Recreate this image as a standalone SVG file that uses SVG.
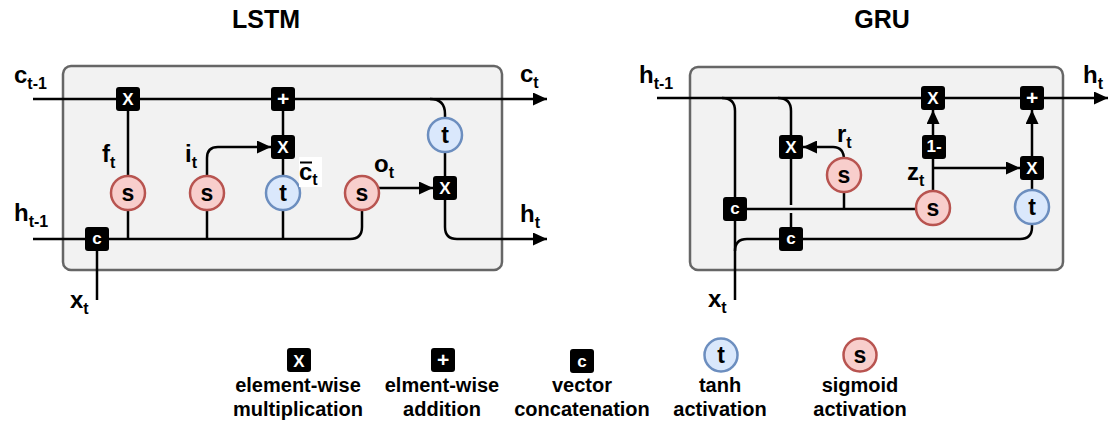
<svg xmlns="http://www.w3.org/2000/svg" width="1117" height="423" viewBox="0 0 1117 423">
<style>
text{font-family:"Liberation Sans",Arial,sans-serif;font-weight:bold;fill:#000}
.title{font-size:25px;text-anchor:middle}
.frame{fill:#f2f2f2;stroke:#666;stroke-width:2.5}
.conn{fill:none;stroke:#000;stroke-width:2.5}
.arr{marker-end:url(#ah)}
.box{fill:#000}
.bt{fill:#fff;font-size:17px;text-anchor:middle}
.pl{font-size:21px}
.sig{fill:#f8cecc;stroke:#b85450;stroke-width:2.5}
.tnh{fill:#dae8fc;stroke:#6c8ebf;stroke-width:2.5}
.ctx{font-size:23px;text-anchor:middle}
.lbl{font-size:24px}
.sub{font-size:16px}
.leg{font-size:20px;text-anchor:middle}
</style>
<defs>
<marker id="ah" markerUnits="userSpaceOnUse" markerWidth="14" markerHeight="13" refX="14" refY="6.5" orient="auto">
<path d="M0,0 L14,6.5 L0,13 z" fill="#000"/>
</marker>
<rect id="bx" x="-12" y="-12" width="24" height="24" rx="3"/>
</defs>

<text class="title" x="266" y="28">LSTM</text>
<text class="title" x="882" y="28">GRU</text>

<rect class="frame" x="63" y="66" width="439" height="204" rx="8"/>
<rect class="frame" x="690" y="67" width="373" height="203" rx="8"/>

<g id="connectors">
<!-- LSTM -->
<path class="conn arr" d="M33,99 H547"/>
<path class="conn" d="M128,99 V239"/>
<path class="conn" d="M207,239 V176"/>
<path class="conn arr" d="M207,176 V158 Q207,147 218,147 H271"/>
<path class="conn" d="M283,99 V239"/>
<path class="conn" d="M33,239 H350 Q362,239 362,227 V210"/>
<path class="conn arr" d="M378,188 H433"/>
<path class="conn arr" d="M430,99 Q445,99 445,114 V227 Q445,239 457,239 H547"/>
<path class="conn" d="M97,239 V300"/>
<!-- GRU -->
<path class="conn arr" d="M657,98 H1108"/>
<path class="conn" d="M722,98 Q735,98 735,111 V300"/>
<path class="conn" d="M778,98 Q791,98 791,111 V205"/>
<path class="conn" d="M791,213 V239"/>
<path class="conn" d="M735,251 Q735,239 747,239 H1020 Q1032,239 1032,227 V222"/>
<path class="conn" d="M735,209 H918"/>
<path class="conn" d="M844,209 V190"/>
<path class="conn arr" d="M844,160 Q844,147 833,147 H803"/>
<path class="conn" d="M933,192 V158"/>
<path class="conn arr" d="M933,135 V110"/>
<path class="conn arr" d="M933,168 H1020"/>
<path class="conn" d="M1032,192 V178"/>
<path class="conn arr" d="M1032,156 V110"/>
</g>

<!-- LSTM nodes -->
<g id="lstm_mul_f" transform="translate(128,99)"><use href="#bx" class="box"/><text class="bt" y="6">X</text></g>
<g id="lstm_add_c" transform="translate(283,99)"><use href="#bx" class="box"/><text class="bt pl" y="7">+</text></g>
<g id="lstm_mul_i" transform="translate(283,147)"><use href="#bx" class="box"/><text class="bt" y="6">X</text></g>
<g id="lstm_mul_o" transform="translate(445,188)"><use href="#bx" class="box"/><text class="bt" y="6">X</text></g>
<g id="lstm_concat" transform="translate(97,239)"><use href="#bx" class="box"/><text class="bt" y="5">c</text></g>
<g id="lstm_sig_f" transform="translate(128,193)"><circle class="sig" r="17"/><text class="ctx" y="8">s</text></g>
<g id="lstm_sig_i" transform="translate(207,193)"><circle class="sig" r="17"/><text class="ctx" y="8">s</text></g>
<g id="lstm_tanh_c" transform="translate(283,193)"><circle class="tnh" r="17"/><text class="ctx" y="8">t</text></g>
<g id="lstm_sig_o" transform="translate(362,193)"><circle class="sig" r="17"/><text class="ctx" y="8">s</text></g>
<g id="lstm_tanh_o" transform="translate(445,135)"><circle class="tnh" r="17"/><text class="ctx" y="8">t</text></g>

<!-- LSTM labels -->
<g id="lstm_labels">
<text class="lbl" x="14" y="83">c<tspan class="sub" dy="6">t-1</tspan></text>
<text class="lbl" x="14" y="221">h<tspan class="sub" dy="6">t-1</tspan></text>
<text class="lbl" x="70" y="308">x<tspan class="sub" dy="6">t</tspan></text>
<text class="lbl" x="102" y="162">f<tspan class="sub" dy="6">t</tspan></text>
<text class="lbl" x="185" y="162">i<tspan class="sub" dy="6">t</tspan></text>
<rect x="299" y="157" width="23" height="30" fill="#fff"/>
<line x1="300" y1="162.5" x2="312" y2="162.5" stroke="#000" stroke-width="2"/>
<text class="lbl" x="299" y="180">c<tspan class="sub" dy="5">t</tspan></text>
<text class="lbl" x="374" y="172">o<tspan class="sub" dy="6">t</tspan></text>
<text class="lbl" x="520" y="82">c<tspan class="sub" dy="6">t</tspan></text>
<text class="lbl" x="520" y="222">h<tspan class="sub" dy="6">t</tspan></text>
</g>

<!-- GRU nodes -->
<g id="gru_concat1" transform="translate(735,209)"><use href="#bx" class="box"/><text class="bt" y="5">c</text></g>
<g id="gru_concat2" transform="translate(791,239)"><use href="#bx" class="box"/><text class="bt" y="5">c</text></g>
<g id="gru_mul_r" transform="translate(791,147)"><use href="#bx" class="box"/><text class="bt" y="6">X</text></g>
<g id="gru_sig_r" transform="translate(844,175)"><circle class="sig" r="17"/><text class="ctx" y="8">s</text></g>
<g id="gru_sig_z" transform="translate(933,208)"><circle class="sig" r="17"/><text class="ctx" y="8">s</text></g>
<g id="gru_one_minus" transform="translate(934,147)"><use href="#bx" class="box"/><text class="bt" y="5" font-size="15">1-</text></g>
<g id="gru_mul_h" transform="translate(933,98)"><use href="#bx" class="box"/><text class="bt" y="6">X</text></g>
<g id="gru_add_h" transform="translate(1032,98)"><use href="#bx" class="box"/><text class="bt pl" y="7">+</text></g>
<g id="gru_mul_z" transform="translate(1032,168)"><use href="#bx" class="box"/><text class="bt" y="6">X</text></g>
<g id="gru_tanh_h" transform="translate(1032,207)"><circle class="tnh" r="17"/><text class="ctx" y="8">t</text></g>

<g id="gru_labels">
<text class="lbl" x="639" y="83">h<tspan class="sub" dy="6">t-1</tspan></text>
<text class="lbl" x="1083" y="83">h<tspan class="sub" dy="6">t</tspan></text>
<text class="lbl" x="708" y="307">x<tspan class="sub" dy="6">t</tspan></text>
<text class="lbl" x="837" y="142">r<tspan class="sub" dy="6">t</tspan></text>
<text class="lbl" x="907" y="180">z<tspan class="sub" dy="6">t</tspan></text>
</g>

<!-- Legend -->
<g id="legend_mul">
<g transform="translate(299,360)"><use href="#bx" class="box"/><text class="bt" y="6.5" font-size="18">X</text></g>
<text class="leg" x="298" y="392">element-wise</text>
<text class="leg" x="298" y="416">multiplication</text>
</g>
<g id="legend_add">
<g transform="translate(443,360)"><use href="#bx" class="box"/><text class="bt pl" y="7">+</text></g>
<text class="leg" x="442" y="392">elment-wise</text>
<text class="leg" x="442" y="416">addition</text>
</g>
<g id="legend_concat">
<g transform="translate(582,361)"><use href="#bx" class="box"/><text class="bt" y="5.5" font-size="18">c</text></g>
<text class="leg" x="582" y="392">vector</text>
<text class="leg" x="582" y="416">concatenation</text>
</g>
<g id="legend_tanh">
<g transform="translate(721,355)"><circle class="tnh" r="16.5"/><text class="ctx" y="8">t</text></g>
<text class="leg" x="720" y="392">tanh</text>
<text class="leg" x="720" y="416">activation</text>
</g>
<g id="legend_sig">
<g transform="translate(860,355)"><circle class="sig" r="16.5"/><text class="ctx" y="8">s</text></g>
<text class="leg" x="860" y="392">sigmoid</text>
<text class="leg" x="860" y="416">activation</text>
</g>
</svg>
